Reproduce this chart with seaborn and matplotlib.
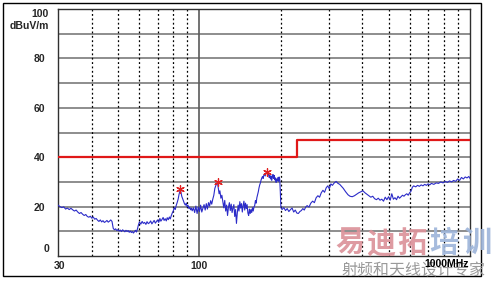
import numpy as np
import pandas as pd
import matplotlib
matplotlib.use("Agg")
import matplotlib.pyplot as plt
from matplotlib.ticker import NullLocator, FixedLocator
import seaborn as sns

# ---------------- data ----------------
freq_mhz = [
    30, 30.5, 31, 31.5, 32, 32.5, 33, 33.5, 34, 34.5, 35, 35.5, 36, 36.5, 37, 37.5, 38, 38.5, 39, 39.5,
    40, 40.5, 41, 41.5, 42, 42.5, 43, 43.5, 44, 44.5, 45, 45.5, 46, 46.5, 47, 47.5,
    48, 48.5, 49, 49.5, 50, 50.5, 51, 51.5, 52, 52.5, 53, 53.5, 54, 54.5, 55, 55.5, 56, 56.5, 57, 57.5,
    58, 58.5, 59, 59.5,
    60, 60.7, 61.4, 62, 62.7, 63.4, 64, 64.7, 65.4, 66, 66.7, 67.4, 68, 68.7, 69.4, 70, 70.7, 71.4, 72,
    72.7, 73.4, 74, 74.7, 75.4, 76, 76.7, 77.4, 78, 78.7, 79.4,
    80, 80.7, 81.4, 82, 82.7, 83.4, 84, 84.5, 85, 85.5, 86, 86.7, 87.4, 88, 88.7, 89.4, 90, 90.7, 91.4,
    92, 92.7, 93.4, 94,
    95, 96, 97, 98, 99, 100, 101, 102, 103, 104, 105, 106, 107, 108, 109, 110, 111, 112,
    113, 114, 115, 115.8, 116.6, 117.4, 118.2, 119, 120, 121, 122,
    123, 124, 125, 126, 127, 128, 129, 130, 131, 132, 133, 134, 135, 136, 137, 138, 139, 140, 141, 142,
    143, 144, 145, 146, 147, 148, 149, 150, 151, 152, 153, 154, 155, 156, 157, 158, 159, 160, 161, 162,
    163, 164,
    165, 166, 167, 168, 169, 170, 171, 172, 173, 174, 175, 176, 177, 178, 179, 180, 181, 182, 183, 184,
    185, 186, 187, 188, 189, 190, 191, 192, 193, 194, 195, 196, 197, 198, 199, 200,
    202, 205, 208, 211, 214, 217, 220, 223, 226, 229, 232, 235, 238, 241, 244, 247, 250, 254, 258, 262,
    266, 270, 274, 278, 282, 286, 290, 294, 298, 302, 306, 310, 315, 320, 325, 330, 335,
    340, 347, 354, 360, 367, 374, 381, 388, 395, 402, 409, 416, 423, 430, 437, 444, 451, 458, 465, 472,
    479, 486, 493, 500,
    507, 514, 521, 528, 535, 542, 549, 556, 563, 570, 577, 584, 591, 598, 605, 612, 619,
    630, 640, 650, 660, 670, 680, 690, 700, 710, 720, 735, 750, 765, 780, 795, 810, 825, 840, 855, 870,
    885, 900, 915, 930, 945, 960, 975, 990, 1000,
]
level_dbuv = [
    20.6, 20.0, 19.6, 19.9, 19.0, 19.4, 18.8, 19.3, 18.7, 18.2, 18.6, 17.8, 17.2, 17.6, 16.9, 16.4, 16.8, 16.0, 15.7, 16.1,
    15.3, 15.8, 14.9, 15.2, 14.5, 14.0, 14.6, 13.8, 14.3, 13.6, 13.9, 14.4, 13.7, 14.1, 14.6, 14.0,
    11.2, 10.6, 11.0, 10.3, 10.7, 10.1, 10.5, 9.9, 10.6, 10.2, 9.8, 10.4, 9.9, 10.3, 9.6, 10.1, 9.5, 9.9, 9.3, 9.8,
    10.4, 9.7, 11.0, 12.6,
    13.8, 12.9, 14.0, 13.2, 13.6, 12.8, 13.9, 13.1, 13.5, 14.2, 13.0, 13.8, 14.4, 13.3, 14.0, 14.6, 13.6, 15.2, 14.1,
    14.8, 15.6, 14.4, 15.1, 14.2, 15.5, 14.7, 15.8, 15.0, 16.4, 17.5,
    18.2, 19.6, 18.8, 20.4, 21.6, 23.0, 24.8, 25.9, 26.8, 25.6, 24.2, 23.1, 22.0, 21.2, 20.6, 21.4, 19.9, 20.6, 19.2,
    19.8, 18.7, 19.4, 18.3,
    19.5, 17.6, 20.2, 17.2, 19.8, 18.0, 20.6, 17.8, 19.4, 20.8, 18.6, 21.2, 19.0, 21.6, 20.2, 22.4, 21.0, 23.0,
    24.6, 27.4, 28.6, 29.3, 29.7, 27.5, 25.2, 26.4, 23.4, 24.6, 22.0,
    19.5, 22.5, 18.2, 20.6, 16.4, 19.8, 21.6, 18.4, 21.0, 17.6, 19.4, 20.8, 16.0, 18.8, 13.2, 17.4, 20.6, 18.2, 22.0, 19.4,
    21.2, 17.8, 20.4, 22.2, 18.6, 21.4, 19.2, 20.8, 17.4, 16.4, 19.0, 17.2, 18.8, 17.6, 19.6, 18.2, 19.8, 20.4, 22.4, 21.4,
    23.6, 24.8,
    26.0, 27.6, 28.8, 29.6, 30.8, 31.6, 32.2, 31.4, 32.8, 33.2, 32.4, 33.6, 33.9, 34.1, 32.8, 33.4, 31.8, 32.6, 31.2, 32.4,
    30.6, 32.0, 33.0, 31.4, 32.6, 30.8, 31.6, 29.8, 31.2, 30.4, 31.8, 30.2, 32.0, 31.2, 26.0, 19.6,
    18.8, 19.6, 18.4, 19.2, 18.0, 18.8, 19.4, 17.8, 18.6, 17.4, 17.2, 18.0, 18.4, 19.2, 18.6, 19.8, 20.4, 19.8, 21.4, 22.2,
    21.6, 23.6, 24.4, 23.8, 25.6, 26.6, 25.8, 27.6, 28.4, 27.2, 29.2, 28.6, 29.6, 30.2, 29.4, 29.0, 28.2,
    27.4, 26.0, 24.8, 24.2, 24.0, 24.4, 25.0, 25.6, 26.0, 26.4, 25.6, 25.0, 24.4, 23.8, 24.2, 23.2, 22.8, 23.4, 22.6, 23.0,
    22.2, 23.8, 22.8, 24.0,
    22.6, 25.2, 23.0, 23.6, 22.8, 24.2, 23.4, 24.0, 24.6, 24.2, 24.8, 25.2, 24.6, 25.6, 26.2, 27.8, 28.4,
    28.0, 28.6, 28.2, 28.8, 28.4, 29.0, 28.6, 29.2, 28.8, 29.4, 29.0, 29.6, 29.4, 30.0, 29.6, 30.2, 29.8, 30.4, 30.0, 30.6,
    30.2, 31.2, 30.6, 31.8, 31.2, 32.0, 31.6, 32.2, 31.4,
]

limit_freq = [30, 230, 230, 1000]
limit_level = [40, 40, 47, 47]

peak_freq = [85, 116.6, 178]
peak_level = [27.0, 29.8, 34.2]

y_tick_values = [20, 40, 60, 80]
x_label_texts = ["30", "100", "1000MHz"]
unit_label = "dBuV/m"

# ---------------- plotting ----------------
sns.set_style("white")
plt.rcParams["font.family"] = ["Liberation Sans", "DejaVu Sans"]

W, H = 492, 282
fig = plt.figure(figsize=(W / 100, H / 100), dpi=100)
ax = fig.add_axes([58 / W, 1 - 256 / H, (470 - 58) / W, 247 / H])

trace = pd.DataFrame({"f": freq_mhz, "lvl": level_dbuv})
limits = pd.DataFrame({"f": limit_freq, "lvl": limit_level})
peaks = pd.DataFrame({"f": peak_freq, "lvl": peak_level})

ax.set_xscale("log")
ax.set_xlim(30, 1000)
ax.set_ylim(0, 100)

# grid
for yv in range(10, 100, 10):
    ax.axhline(yv, color="#7a7a7a", lw=1.2, zorder=1)
for xv in [40, 50, 60, 70, 80, 90, 200, 300, 400, 500, 600, 700, 800, 900]:
    ax.axvline(xv, color="black", lw=0.9, ls=(0, (1.5, 2)), zorder=1)
ax.axvline(100, color="#5a5a5a", lw=1.2, zorder=1)

sns.lineplot(data=limits, x="f", y="lvl", ax=ax, color="#e01818", lw=1.6,
             sort=False, estimator=None, zorder=3)
sns.lineplot(data=trace, x="f", y="lvl", ax=ax, color="#2b2bc8", lw=0.8,
             sort=False, estimator=None, zorder=4)
sns.scatterplot(data=peaks, x="f", y="lvl", ax=ax, marker=(6, 2, 0), s=30,
                color="#e02020", linewidth=0.9, edgecolor="#e02020", zorder=5)

ax.set_xlabel("")
ax.set_ylabel("")
ax.xaxis.set_major_locator(NullLocator())
ax.xaxis.set_minor_locator(NullLocator())
ax.yaxis.set_major_locator(FixedLocator(y_tick_values))
ax.set_yticklabels([str(v) for v in y_tick_values], fontsize=7.5, fontweight="bold")
ax.tick_params(axis="y", length=0, pad=9)
ax.tick_params(axis="x", length=0)

for s in ax.spines.values():
    s.set_color("#303030")
    s.set_linewidth(1.0)

tf = ax.get_yaxis_transform()
ax.text(-0.022, 98, "100", transform=tf, ha="right", va="center", fontsize=7.5, fontweight="bold")
ax.text(-0.022, 93, unit_label, transform=tf, ha="right", va="center", fontsize=7.5, fontweight="bold")
ax.text(-0.022, 2.8, "0", transform=tf, ha="right", va="center", fontsize=7.5, fontweight="bold")

xt = ax.get_xaxis_transform()
ax.text(30.3, -0.04, x_label_texts[0], transform=xt, ha="center", va="center", fontsize=7.5, fontweight="bold")
ax.text(100, -0.04, x_label_texts[1], transform=xt, ha="center", va="center", fontsize=7.5, fontweight="bold")

# outer frame
fig.patches.append(plt.Rectangle((3 / W, 1 - 276 / H), (481 - 3) / W, (276 - 3) / H,
                                 transform=fig.transFigure, fill=False, edgecolor="black", lw=1.0))

# watermark
cjk = ["Noto Sans CJK SC", "DejaVu Sans"]
wm_chars = ["易", "迪", "拓", "培", "训"]
wm_x = [350, 381, 412, 444, 477]
wm_col = ["#dc939a", "#dc939a", "#dc939a", "#9fb6da", "#9fb6da"]
for ch, xp, c in zip(wm_chars, wm_x, wm_col):
    fig.text(xp / W, 1 - 243 / H, ch, ha="center", va="center", fontsize=21, fontweight="black",
             family=cjk, color=c, alpha=0.92, zorder=10)
fig.text(413 / W, 1 - 271 / H, "射频和天线设计专家", ha="center", va="center", fontsize=11.5,
         family=cjk, color="#9a9a9a", zorder=10)

fig.text(469 / W, 1 - 264 / H, x_label_texts[2], ha="right", va="center", fontsize=7.5,
         fontweight="bold", color="black", zorder=11)

fig.savefig("out.png", dpi=100)
